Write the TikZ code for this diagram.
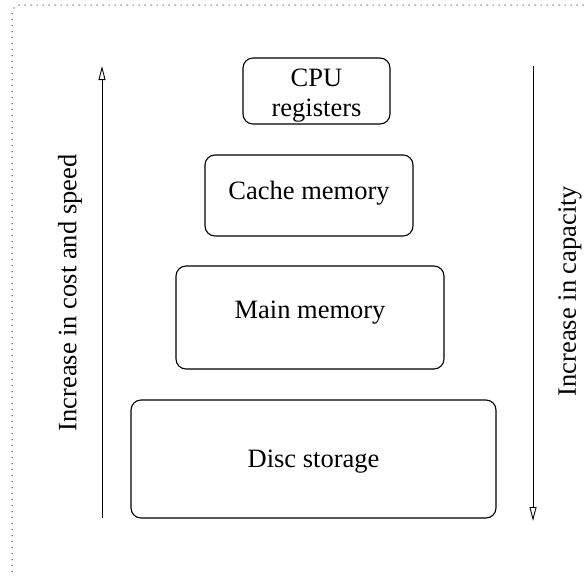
\documentclass[tikz,border=0pt]{standalone}
\usepackage{fontspec}
\setmainfont{Liberation Serif}
\usetikzlibrary{arrows.meta}
\tikzset{
  level/.style={draw, line width=1.1pt, rounded corners=10pt, inner sep=0pt,
    align=center, font=\fontsize{26.5}{30}\selectfont},
  trend/.style={line width=0.9pt, -{Triangle[open, length=14pt, width=7pt, line width=0.9pt]}},
  sidelabel/.style={rotate=90, font=\fontsize{26.5}{28}\selectfont, inner sep=0pt},
  frame/.style={line width=1pt, dash pattern=on 1pt off 5pt, gray!40!black, rounded corners=8pt}
}
\begin{document}
\begin{tikzpicture}[x=1pt, y=-1pt]
  \useasboundingbox (0,0) rectangle (588,576);
  % outer dotted frame (extends past the page on the right and bottom)
  \draw[frame] (12,620) -- (12,5) -- (640,5);
  % memory hierarchy levels; text height/depth place each baseline
  \node[level, minimum width=147pt, minimum height=66pt, text height=53pt, text depth=3pt]
    (cpu) at (316.5,91) {CPU\\registers};
  \node[level, minimum width=208pt, minimum height=81pt, text height=14pt, text depth=7pt]
    (cache) at (309,195.5) {Cache memory};
  \node[level, minimum width=268pt, minimum height=103pt, text height=10pt, text depth=9pt]
    (main) at (310,317.5) {Main memory};
  \node[level, minimum width=365pt, minimum height=118pt, text height=20pt, text depth=4pt]
    (disc) at (313.5,459) {Disc storage};
  % trend arrows
  \coordinate (costlow) at (102,518);
  \coordinate (costhigh) at (102,66);
  \coordinate (caplow) at (533,66);
  \coordinate (caphigh) at (533,521);
  \draw[trend] (costlow) -- (costhigh);
  \draw[trend] (caplow) -- (caphigh);
  \node[sidelabel] (costlabel) at (70,293) {Increase in cost and speed};
  \node[sidelabel] (caplabel) at (570,291) {Increase in capacity};
\end{tikzpicture}
\end{document}
